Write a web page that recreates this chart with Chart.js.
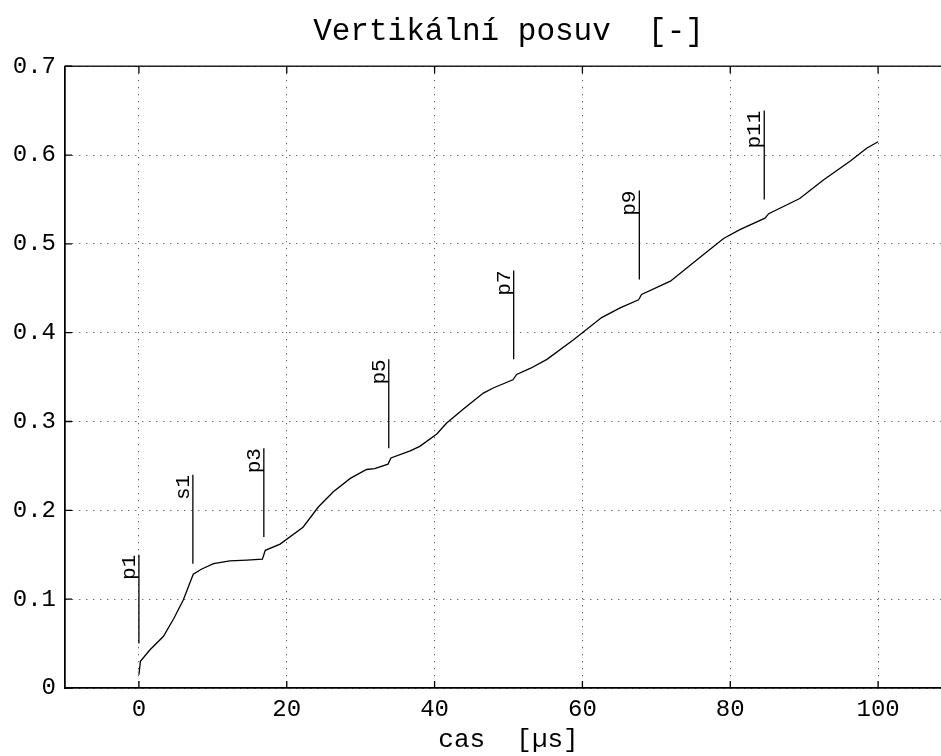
<!DOCTYPE html>
<html>
<head>
<meta charset="utf-8">
<script src="https://cdn.jsdelivr.net/npm/chart.js@4/dist/chart.umd.min.js"></script>
<style>
  body { margin: 0; overflow: hidden; background: #fff; }
</style>
</head>
<body>
<canvas id="posuvChart" width="960" height="756"></canvas>
<script>
// cas [µs] a vertikalni posuv [-]
const timeUs = [0, 0.2, 1.5, 3.3, 4.7, 6.0, 7.35, 8.5, 10.1, 12.3, 14.6, 16.7, 17.1, 19.1, 22.2, 24.3, 26.3, 28.6, 30.8, 31.9, 33.7, 34.1, 36.7, 38.0, 40.3, 41.6, 43.9, 46.6, 48.0, 50.6, 51.1, 53.0, 55.2, 58.8, 62.6, 65.1, 67.6, 68.0, 71.9, 75.5, 79.1, 81.3, 84.7, 85.2, 89.4, 92.6, 96.2, 98.5, 100.0];
const posuv = [0.015, 0.030, 0.043, 0.058, 0.078, 0.099, 0.128, 0.134, 0.140, 0.143, 0.144, 0.145, 0.155, 0.162, 0.181, 0.204, 0.221, 0.236, 0.246, 0.247, 0.252, 0.259, 0.267, 0.272, 0.286, 0.298, 0.314, 0.332, 0.338, 0.347, 0.353, 0.360, 0.370, 0.392, 0.417, 0.428, 0.437, 0.443, 0.458, 0.482, 0.506, 0.516, 0.529, 0.534, 0.551, 0.572, 0.593, 0.608, 0.615];

// znacky (svisle cary s popisky)
const markerNames = ['p1', 's1', 'p3', 'p5', 'p7', 'p9', 'p11'];
const markerX = [0, 7.3, 16.9, 33.8, 50.7, 67.7, 84.6];
const markerFrom = [0.05, 0.14, 0.17, 0.27, 0.37, 0.46, 0.55];
const markerTo = [0.15, 0.24, 0.27, 0.37, 0.47, 0.56, 0.65];

const xTicks = [0, 20, 40, 60, 80, 100];
const yTicks = [0, 0.1, 0.2, 0.3, 0.4, 0.5, 0.6, 0.7];

const monoFont = 'Liberation Mono, DejaVu Sans Mono, monospace';

const datasets = [{
    data: timeUs.map((t, i) => ({ x: t, y: posuv[i] })),
    borderColor: '#000',
    borderWidth: 1.3,
    pointRadius: 0,
    tension: 0
}];
markerNames.forEach((name, i) => {
    datasets.push({
        data: [{ x: markerX[i], y: markerFrom[i] }, { x: markerX[i], y: markerTo[i] }],
        borderColor: '#000',
        borderWidth: 1.3,
        pointRadius: 0
    });
});

// ramecek a dovnitr smerujici carky os
const framePlugin = {
    id: 'frame',
    afterDatasetsDraw(chart) {
        const { ctx, chartArea: a, scales: { x, y } } = chart;
        ctx.save();
        ctx.strokeStyle = '#000';
        ctx.lineWidth = 1.3;
        ctx.strokeRect(a.left, a.top, a.right - a.left, a.bottom - a.top);
        ctx.beginPath();
        xTicks.forEach(v => {
            const px = x.getPixelForValue(v);
            ctx.moveTo(px, a.bottom); ctx.lineTo(px, a.bottom - 7);
            ctx.moveTo(px, a.top); ctx.lineTo(px, a.top + 7);
        });
        yTicks.forEach(v => {
            const py = y.getPixelForValue(v);
            ctx.moveTo(a.left, py); ctx.lineTo(a.left + 7, py);
            ctx.moveTo(a.right, py); ctx.lineTo(a.right - 7, py);
        });
        ctx.stroke();

        // popisky znacek
        ctx.fillStyle = '#000';
        ctx.font = '21px ' + monoFont;
        ctx.textAlign = 'right';
        ctx.textBaseline = 'bottom';
        markerNames.forEach((name, i) => {
            ctx.save();
            ctx.translate(x.getPixelForValue(markerX[i]) + 1, y.getPixelForValue(markerTo[i]));
            ctx.rotate(-Math.PI / 2);
            ctx.fillText(name, 0, 0);
            ctx.restore();
        });
        ctx.restore();
    }
};

const ctx = document.getElementById('posuvChart').getContext('2d');
new Chart(ctx, {
    type: 'line',
    data: { datasets: datasets },
    plugins: [framePlugin],
    options: {
        responsive: false,
        animation: false,
        devicePixelRatio: 1,
        layout: { padding: { left: 0, right: 8, top: 0, bottom: 0 } },
        plugins: {
            legend: { display: false },
            tooltip: { enabled: false },
            title: {
                display: true,
                fullSize: false,
                text: 'Vertikální posuv  [-]',
                color: '#000',
                font: { family: monoFont, size: 31, weight: 'normal', lineHeight: 1.2 },
                padding: { top: 13, bottom: 16 }
            }
        },
        scales: {
            x: {
                type: 'linear',
                min: -10,
                max: 110,
                afterBuildTicks: scale => { scale.ticks = xTicks.map(v => ({ value: v })); },
                afterFit: scale => { scale.height = 68; },
                grid: { color: '#333', lineWidth: 1, drawTicks: false },
                border: { display: true, color: '#000', width: 1.3, dash: [1, 6] },
                ticks: { color: '#000', padding: 7, maxRotation: 0, font: { family: monoFont, size: 24 } },
                title: {
                    display: true,
                    text: 'cas  [µs]',
                    color: '#000',
                    font: { family: monoFont, size: 26 },
                    padding: { top: 0, bottom: 0 }
                }
            },
            y: {
                min: 0,
                max: 0.7,
                afterBuildTicks: scale => { scale.ticks = yTicks.map(v => ({ value: v })); },
                afterFit: scale => { scale.width = 65; },
                grid: { color: '#333', lineWidth: 1, drawTicks: false },
                border: { display: true, color: '#000', width: 1.3, dash: [1, 6] },
                ticks: { color: '#000', padding: 9, font: { family: monoFont, size: 24 } }
            }
        }
    }
});
</script>
</body>
</html>
